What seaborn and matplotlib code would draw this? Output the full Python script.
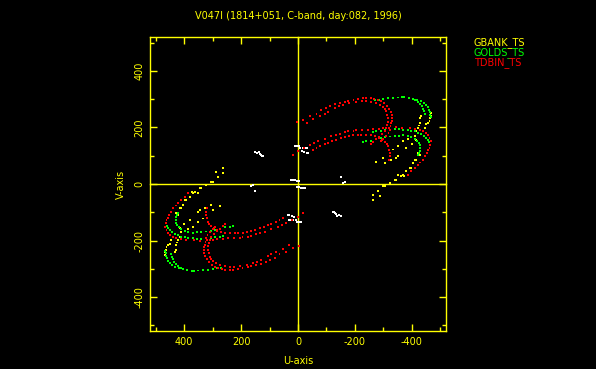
import numpy as np
import pandas as pd
import seaborn as sns
import matplotlib
matplotlib.use("Agg")
import matplotlib.pyplot as plt
from matplotlib.ticker import MultipleLocator

sns.set_theme(style="dark")
plt.rcParams["font.family"] = ["DejaVu Sans"]
plt.rcParams["axes.unicode_minus"] = False

# UV coverage, one half-plane per station (conjugate points drawn too)
tdbin_u = [5, -18, -41, -65, -82, -100, -111, -130, -147, -165, -176, -195, -211, -228,
           -240, -255, -268, -280, -292, -302, -312, -320, -326, -330, -331, -330, -328,
           -325, -322, -318, -310, -300, -290,
           -30, -53, -76, -94, -106, -129, -145, -158, -180, -205, -225, -240, -258, -275,
           -287, -297, -305, -310, -314, -316, -316, -314, -310, -304, -295, -285, -275,
           -265, -255,
           17, 0, -20, -41, -56, -70, -94, -117, -135, -147, -165, -176, -195, -205, -225,
           -245, -265, -285, -298, -320, -345, -365, -392, -410, -427, -440, -450, -458,
           -462, -466, -465, -462, -458, -453, -446, -439, -430, -421, -410, -398, -385,
           -53, -65, -76, -94, -106, -120, -135, -150, -164, -180, -193, -210, -223, -240,
           -256, -270, -285, -296, -305, -312, -316, -320, -322, -322, -320]
tdbin_v = [220, 228, 242, 249, 261, 268, 275, 282, 287, 291, 293, 298, 301, 303,
           304, 304, 302, 298, 292, 285, 276, 266, 256, 245, 233, 224, 216,
           204, 192, 180, 170, 160, 152,
           216, 230, 240, 248, 253, 269, 275, 281, 286, 291, 293, 293, 291, 287,
           281, 273, 265, 257, 245, 233, 221, 210, 198, 186, 176, 166, 158,
           150, 140,
           104, 116, 128, 139, 146, 151, 159, 169, 174, 178, 183, 186, 189, 190, 190,
           192, 194, 196, 198, 199, 200, 199, 198, 196, 192, 187, 180, 172,
           163, 151, 139, 127, 121, 110, 98, 86, 76, 68, 56, 45, 33,
           121, 127, 133, 140, 145, 151, 157, 162, 166, 170, 172, 173, 174, 174,
           173, 170, 164, 157, 150, 140, 133, 121, 110, 100, 85]

golds_u = [-270, -285, -298, -315, -333, -350, -365, -374, -390, -404, -418, -433, -443,
           -450, -456, -460, -463, -465, -466,
           -410, -420, -428, -435, -440, -444, -447,
           -262, -275, -290, -305, -322, -340, -355, -369, -385, -398, -410, -422, -433,
           -442, -450, -457, -460, -462,
           -228, -240, -257, -275, -290, -305, -322, -340, -355, -369, -385, -398, -410,
           -418, -424, -427, -428, -427, -424, -421]
golds_v = [296, 298, 300, 303, 304, 306, 307, 307, 305, 302, 298, 293, 286,
           278, 271, 263, 255, 245, 236,
           296, 290, 283, 275, 266, 257, 248,
           184, 186, 189, 191, 192, 193, 193, 192, 190, 188, 186, 182, 177,
           171, 164, 157, 148, 139,
           150, 153, 152, 160, 163, 166, 168, 170, 171, 172, 170, 166, 160,
           153, 145, 138, 128, 118, 110, 104]

gbank_u = [-468, -466, -465, -462, -456, -450, -445,
           -433, -430, -427, -424, -421, -415,
           -416, -421, -427, -415, -410, -404, -398, -392, -380, -369, -363, -345, -339,
           -322, -304, -298, -281, -264, -287, -264,
           -380, -351, -328, -304, -298, -275, -351, -369, -386, -374, -351, -334, -345,
           -400, -410]
gbank_v = [251, 242, 233, 222, 217, 212, 198,
           240, 233, 216, 207, 198, 186,
           157, 110, 104, 86, 86, 74, 57, 57, 45, 33, 27, 15, 15,
           2, -8, -6, -24, -38, -42, -56,
           127, 98, 86, 74, 92, 78, 133, 151, 160, 27, 33, 122, 92,
           140, 170]

other_u = [150, 144, 138, 132, 128, 122, 130, 164, 158, 152, 12, 5, -2, -8, -18, -24,
           -30, -22, -30, -36, -14, 25, 18, 10, 5, -5]
other_v = [112, 110, 112, 106, 100, 100, 104, -8, -4, -26, 133, 133, 133, 127, 126, 127,
           129, 112, 110, 110, 118, 15, 15, 13, 12, 10]

stations = ["other", "GBANK_TS", "GOLDS_TS", "TDBIN_TS"]
colors = {"other": "white", "GBANK_TS": "#ffff00", "GOLDS_TS": "#00ff00", "TDBIN_TS": "#ff0000"}
yellow = "#ffff00"

frames = []
for name, us, vs in [("other", other_u, other_v), ("GBANK_TS", gbank_u, gbank_v),
                     ("GOLDS_TS", golds_u, golds_v), ("TDBIN_TS", tdbin_u, tdbin_v)]:
    u = np.array(us)
    v = np.array(vs)
    frames.append(pd.DataFrame({"u": np.r_[u, -u], "v": np.r_[v, -v], "station": name}))
df = pd.concat(frames, ignore_index=True)

fig = plt.figure(figsize=(5.96, 3.69), dpi=100, facecolor="black")
pos = [150 / 596, 38 / 369, 296 / 596, 294 / 369]

# zero lines with crossing ticks
axz = fig.add_axes(pos)
axz.set_facecolor("black")
axz.set_xlim(520, -520)
axz.set_ylim(-520, 520)
for s in ["top", "right"]:
    axz.spines[s].set_visible(False)
for s in ["left", "bottom"]:
    axz.spines[s].set_position(("data", 0))
    axz.spines[s].set_color(yellow)
    axz.spines[s].set_linewidth(1)
axz.xaxis.set_major_locator(MultipleLocator(200))
axz.xaxis.set_minor_locator(MultipleLocator(100))
axz.yaxis.set_major_locator(MultipleLocator(200))
axz.yaxis.set_minor_locator(MultipleLocator(100))
axz.tick_params(which="both", direction="inout", color=yellow, width=1,
                labelbottom=False, labelleft=False)
axz.tick_params(which="major", length=7)
axz.tick_params(which="minor", length=4)

ax = fig.add_axes(pos)
ax.patch.set_visible(False)
sns.scatterplot(data=df, x="u", y="v", hue="station", hue_order=stations, palette=colors,
                marker="s", s=2, linewidth=0, legend=False, ax=ax)
ax.set_xlim(520, -520)
ax.set_ylim(-520, 520)
ax.grid(False)
for s in ax.spines.values():
    s.set_color(yellow)
    s.set_linewidth(1)
ax.xaxis.set_major_locator(MultipleLocator(200))
ax.xaxis.set_minor_locator(MultipleLocator(100))
ax.yaxis.set_major_locator(MultipleLocator(200))
ax.yaxis.set_minor_locator(MultipleLocator(100))
ax.tick_params(which="both", direction="in", color=yellow, width=1, top=True, right=True,
               bottom=True, left=True, labelcolor=yellow, labelsize=7)
ax.tick_params(which="major", length=5, pad=4)
ax.tick_params(which="minor", length=3)
for t in ax.get_yticklabels():
    t.set_rotation(90)
    t.set_va("center")
ax.set_xlabel("U-axis", color=yellow, fontsize=7, labelpad=7)
ax.set_ylabel("V-axis", color=yellow, fontsize=7, labelpad=6)

fig.text(298 / 596, 1 - 16 / 369, "V047I (1814+051, C-band, day:082, 1996)",
         color=yellow, fontsize=7, ha="center", va="center")
for i, name in enumerate(stations[1:]):
    fig.text(474 / 596, 1 - (42.5 + 10.2 * i) / 369, name, color=colors[name],
             fontsize=7, ha="left", va="center")

fig.savefig("out.png", dpi=100, facecolor="black")
